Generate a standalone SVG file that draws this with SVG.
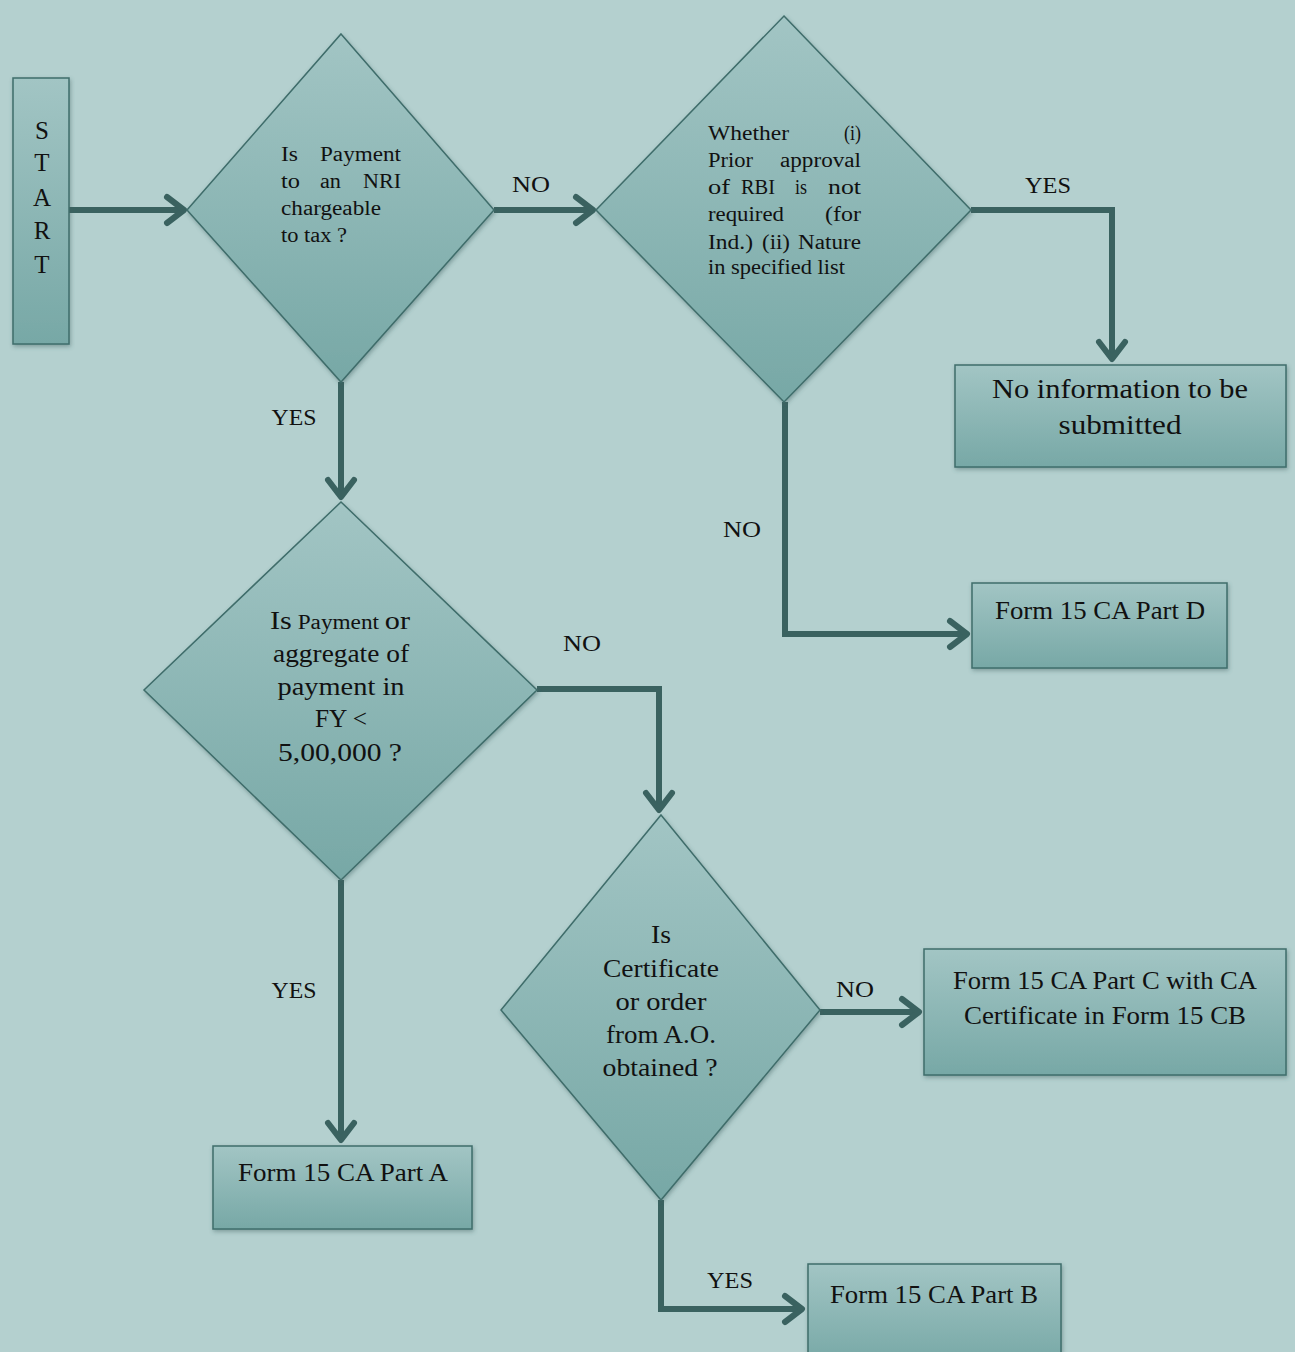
<svg xmlns="http://www.w3.org/2000/svg" width="1295" height="1352" viewBox="0 0 1295 1352">
<defs>
<linearGradient id="g" x1="0" y1="0" x2="0" y2="1">
<stop offset="0" stop-color="#a2c5c4"/>
<stop offset="1" stop-color="#77a8a6"/>
</linearGradient>
<filter id="sh" x="-10%" y="-10%" width="120%" height="120%">
<feDropShadow dx="1" dy="2" stdDeviation="2" flood-color="#3a5f5d" flood-opacity="0.45"/>
</filter>
<marker id="arr" viewBox="-22 -17 26 34" refX="0" refY="0" markerWidth="26" markerHeight="34" orient="auto" markerUnits="userSpaceOnUse">
<path d="M-17,-13 L0,0 L-17,13" fill="none" stroke="#3a6260" stroke-width="6" stroke-linecap="round" stroke-linejoin="round"/>
</marker>
<style>
.shape{fill:url(#g);stroke:#3f6d6b;stroke-width:1.5;filter:url(#sh);}
.t{font-family:"Liberation Serif","DejaVu Serif",serif;fill:#111;}
.d{font-size:20px;}
.b{font-size:27px;text-anchor:middle;}
.c{font-size:25px;text-anchor:middle;}
.s{font-size:25px;text-anchor:middle;}
.lab{font-family:"Liberation Serif","DejaVu Serif",serif;font-size:24px;fill:#111;text-anchor:middle;}
.con{fill:none;stroke:#3a6260;stroke-width:6;stroke-linejoin:miter;marker-end:url(#arr);}
</style>
</defs>
<rect width="1295" height="1352" fill="#b4d0cf"/>

<g id="connectors">
<path class="con" d="M69,210 L184,210"/>
<path class="con" d="M494,210 L593,210"/>
<path class="con" d="M971,210 L1112,210 L1112,359"/>
<path class="con" d="M785,402 L785,634 L967,634"/>
<path class="con" d="M341,382 L341,497"/>
<path class="con" d="M537,689 L659,689 L659,810"/>
<path class="con" d="M341,880 L341,1140"/>
<path class="con" d="M820,1012 L919,1012"/>
<path class="con" d="M661,1200 L661,1309 L802,1309"/>
</g>

<g id="labels">
<text class="lab" x="531" y="192" textLength="38" lengthAdjust="spacingAndGlyphs">NO</text>
<text class="lab" x="1048" y="193" textLength="46" lengthAdjust="spacingAndGlyphs">YES</text>
<text class="lab" x="294" y="425" textLength="45" lengthAdjust="spacingAndGlyphs">YES</text>
<text class="lab" x="742" y="537" textLength="38" lengthAdjust="spacingAndGlyphs">NO</text>
<text class="lab" x="582" y="651" textLength="38" lengthAdjust="spacingAndGlyphs">NO</text>
<text class="lab" x="294" y="998" textLength="45" lengthAdjust="spacingAndGlyphs">YES</text>
<text class="lab" x="855" y="997" textLength="38" lengthAdjust="spacingAndGlyphs">NO</text>
<text class="lab" x="730" y="1288" textLength="46" lengthAdjust="spacingAndGlyphs">YES</text>
</g>

<g id="start">
<rect class="shape" x="13" y="78" width="56" height="266"/>
<text class="t s" x="42" y="139">S</text>
<text class="t s" x="42" y="171">T</text>
<text class="t s" x="42" y="206">A</text>
<text class="t s" x="42" y="239">R</text>
<text class="t s" x="42" y="273">T</text>
</g>

<g id="d1">
<polygon class="shape" points="341,34 494,210 341,382 187,210"/>
<text class="t d" x="281" y="161" textLength="17" lengthAdjust="spacingAndGlyphs">Is</text>
<text class="t d" x="320" y="161" textLength="81" lengthAdjust="spacingAndGlyphs">Payment</text>
<text class="t d" x="281" y="188" textLength="19" lengthAdjust="spacingAndGlyphs">to</text>
<text class="t d" x="320" y="188" textLength="21" lengthAdjust="spacingAndGlyphs">an</text>
<text class="t d" x="363" y="188" textLength="38" lengthAdjust="spacingAndGlyphs">NRI</text>
<text class="t d" x="281" y="215" textLength="100" lengthAdjust="spacingAndGlyphs">chargeable</text>
<text class="t d" x="281" y="242" textLength="66" lengthAdjust="spacingAndGlyphs">to tax ?</text>
</g>

<g id="d2">
<polygon class="shape" points="784,16 971,210 784,402 596,210"/>
<text class="t d" x="708" y="140" textLength="81" lengthAdjust="spacingAndGlyphs">Whether</text>
<text class="t d" x="844" y="140" textLength="17" lengthAdjust="spacingAndGlyphs">(i)</text>
<text class="t d" x="708" y="167" textLength="45" lengthAdjust="spacingAndGlyphs">Prior</text>
<text class="t d" x="780" y="167" textLength="81" lengthAdjust="spacingAndGlyphs">approval</text>
<text class="t d" x="708" y="194" textLength="22" lengthAdjust="spacingAndGlyphs">of</text>
<text class="t d" x="741" y="194" textLength="34" lengthAdjust="spacingAndGlyphs">RBI</text>
<text class="t d" x="795" y="194" textLength="12" lengthAdjust="spacingAndGlyphs">is</text>
<text class="t d" x="828" y="194" textLength="33" lengthAdjust="spacingAndGlyphs">not</text>
<text class="t d" x="708" y="221" textLength="76" lengthAdjust="spacingAndGlyphs">required</text>
<text class="t d" x="825" y="221" textLength="36" lengthAdjust="spacingAndGlyphs">(for</text>
<text class="t d" x="708" y="249" textLength="45" lengthAdjust="spacingAndGlyphs">Ind.)</text>
<text class="t d" x="762" y="249" textLength="28" lengthAdjust="spacingAndGlyphs">(ii)</text>
<text class="t d" x="798" y="249" textLength="63" lengthAdjust="spacingAndGlyphs">Nature</text>
<text class="t d" x="708" y="274" textLength="137" lengthAdjust="spacingAndGlyphs">in specified list</text>
</g>

<g id="no-info">
<rect class="shape" x="955" y="365" width="331" height="102"/>
<text class="t b" x="1120" y="398" textLength="256" lengthAdjust="spacingAndGlyphs">No information to be</text>
<text class="t b" x="1120" y="434" textLength="123" lengthAdjust="spacingAndGlyphs">submitted</text>
</g>

<g id="part-d">
<rect class="shape" x="972" y="583" width="255" height="85"/>
<text class="t c" x="1100" y="619" textLength="210" lengthAdjust="spacingAndGlyphs">Form 15 CA Part D</text>
</g>

<g id="d3">
<polygon class="shape" points="341,502 537,690 341,880 144,690"/>
<text class="t c" x="340" y="629" textLength="140" lengthAdjust="spacingAndGlyphs"><tspan font-size="26px">Is</tspan><tspan font-size="20px"> Payment </tspan><tspan font-size="26px">or</tspan></text>
<text class="t c" x="341" y="662" textLength="136" lengthAdjust="spacingAndGlyphs">aggregate of</text>
<text class="t c" x="341" y="695" textLength="127" lengthAdjust="spacingAndGlyphs">payment in</text>
<text class="t c" x="341" y="727" textLength="52" lengthAdjust="spacingAndGlyphs">FY &lt;</text>
<text class="t c" x="340" y="761" textLength="124" lengthAdjust="spacingAndGlyphs">5,00,000 ?</text>
</g>

<g id="d4">
<polygon class="shape" points="661,815 820,1010 661,1200 501,1010"/>
<text class="t c" x="661" y="943" textLength="20" lengthAdjust="spacingAndGlyphs">Is</text>
<text class="t c" x="661" y="977" textLength="116" lengthAdjust="spacingAndGlyphs">Certificate</text>
<text class="t c" x="661" y="1010" textLength="91" lengthAdjust="spacingAndGlyphs">or order</text>
<text class="t c" x="661" y="1043" textLength="110" lengthAdjust="spacingAndGlyphs">from A.O.</text>
<text class="t c" x="660" y="1076" textLength="115" lengthAdjust="spacingAndGlyphs">obtained ?</text>
</g>

<g id="part-c">
<rect class="shape" x="924" y="949" width="362" height="126"/>
<text class="t c" x="1105" y="989" textLength="304" lengthAdjust="spacingAndGlyphs">Form 15 CA Part C with CA</text>
<text class="t c" x="1105" y="1024" textLength="282" lengthAdjust="spacingAndGlyphs">Certificate in Form 15 CB</text>
</g>

<g id="part-a">
<rect class="shape" x="213" y="1146" width="259" height="83"/>
<text class="t c" x="343" y="1181" textLength="210" lengthAdjust="spacingAndGlyphs">Form 15 CA Part A</text>
</g>

<g id="part-b">
<rect class="shape" x="808" y="1264" width="253" height="100"/>
<text class="t c" x="934" y="1303" textLength="208" lengthAdjust="spacingAndGlyphs">Form 15 CA Part B</text>
</g>
</svg>
